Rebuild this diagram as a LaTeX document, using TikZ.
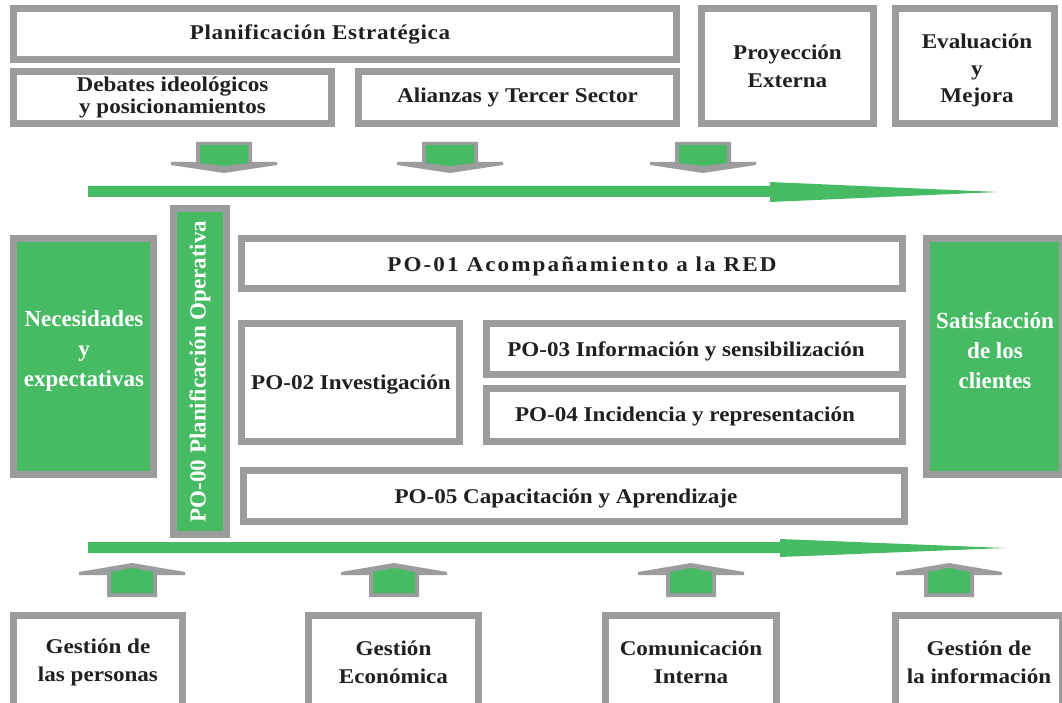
\documentclass[tikz,border=0pt]{standalone}
\usepackage{fontspec}
\setmainfont{Liberation Serif}
\newfontfamily\widefont[FakeStretch=1.1]{Liberation Serif}
\definecolor{bgray}{HTML}{9A9C9E}
\definecolor{pgreen}{HTML}{47BB64}
\definecolor{txt}{HTML}{221F22}
\tikzset{
  box/.style={draw=bgray, line width=7pt, fill=white, align=center, inner sep=0pt, text=txt,
    font=\widefont\bfseries\fontsize{21}{22}\selectfont},
  tallbox/.style={box, font=\widefont\bfseries\fontsize{21}{28}\selectfont},
  lowbox/.style={box, font=\widefont\bfseries\fontsize{21}{28}\selectfont},
  lbl/.style={inner sep=0pt, align=center, text=txt, font=\widefont\bfseries\fontsize{21}{22}\selectfont},
  gbox/.style={box, fill=pgreen, text=white, font=\bfseries\fontsize{23}{30}\selectfont},
  downarr/.pic={
    \fill[bgray] (-28,0) -- (28,0) -- (28,20) -- (53,20) -- (53,23) -- (0,31) -- (-53,23) -- (-53,20) -- (-28,20) -- cycle;
    \fill[pgreen] (-24,3) -- (24,3) -- (24,21) -- (0,24) -- (-24,21) -- cycle;
  },
  uparr/.pic={
    \fill[bgray] (0,0) -- (53,9) -- (53,12) -- (25,12) -- (25,34) -- (-25,34) -- (-25,12) -- (-53,12) -- (-53,9) -- cycle;
    \fill[pgreen] (0,5) -- (21,9) -- (21,30) -- (-21,30) -- (-21,9) -- cycle;
  }
}
\begin{document}
\begin{tikzpicture}[x=1pt,y=-1pt]
\useasboundingbox[fill=white] (0,0) rectangle (1062,703);
% top row
\node[box, minimum width=663, minimum height=51] (ple) at (345,34) {};
\node[lbl, font=\widefont\bfseries\fontsize{21}{22}\selectfont\addfontfeatures{LetterSpace=3}] (plet) at (320,34) {Planificación Estratégica};
\node[box, minimum width=318, minimum height=52] (deb) at (172.5,97.5) {Debates ideológicos\\y posicionamientos};
\node[box, minimum width=318, minimum height=52] (ali) at (517.5,97.5) {Alianzas y Tercer Sector};
\node[tallbox, minimum width=172, minimum height=115] (pro) at (787.5,66) {Proyección\\Externa};
\node[box, minimum width=159, minimum height=115] (eva) at (975,66) {};
\node[lbl, font=\widefont\bfseries\fontsize{21}{27}\selectfont] (evat) at (977,70) {Evaluación\\y\\Mejora};
% down arrows
\coordinate (d1) at (224,142);
\coordinate (d2) at (450,142);
\coordinate (d3) at (703,142);
\pic at (d1) {downarr};
\pic at (d2) {downarr};
\pic at (d3) {downarr};
% green flow bars
\fill[pgreen] (88,186) -- (770,186) -- (770,182) -- (998,192) -- (770,202) -- (770,197) -- (88,197) -- cycle;
\fill[pgreen] (88,542) -- (780,542) -- (780,539) -- (1005,548) -- (780,557) -- (780,553) -- (88,553) -- cycle;
% middle
\node[gbox, minimum width=140, minimum height=236] (nec) at (83.5,356.5) {};
\node[lbl, text=white, font=\bfseries\fontsize{23}{30}\selectfont] (nect) at (84,351) {Necesidades\\y\\expectativas};
\node[gbox, rotate=90, minimum width=326, minimum height=53] (po0) at (200,371.5) {PO-00 Planificación Operativa};
\node[box, minimum width=661, minimum height=50] (po1) at (572,263.5) {};
\node[lbl, font=\widefont\bfseries\fontsize{21}{22}\selectfont\addfontfeatures{LetterSpace=10}] (po1t) at (582,266) {PO-01 Acompañamiento a la RED};
\node[box, minimum width=218, minimum height=118] (po2) at (350.5,382.5) {};
\node[lbl] (po2t) at (351,385) {PO-02 Investigación};
\node[box, minimum width=416, minimum height=51] (po3) at (694.5,349) {};
\node[lbl] (po3t) at (686,351) {PO-03 Información y sensibilización};
\node[box, minimum width=416, minimum height=53] (po4) at (694.5,415) {};
\node[lbl] (po4t) at (685,416) {PO-04 Incidencia y representación};
\node[box, minimum width=661, minimum height=51] (po5) at (574,496) {};
\node[lbl] (po5t) at (566,498) {PO-05 Capacitación y Aprendizaje};
\node[gbox, minimum width=136, minimum height=236] (sat) at (994.5,356.5) {};
\node[lbl, text=white, font=\bfseries\fontsize{23}{30}\selectfont] (satt) at (995,351) {Satisfacción\\de los\\clientes};
% up arrows
\coordinate (u1) at (132,563);
\coordinate (u2) at (394,563);
\coordinate (u3) at (691,563);
\coordinate (u4) at (949,563);
\pic at (u1) {uparr};
\pic at (u2) {uparr};
\pic at (u3) {uparr};
\pic at (u4) {uparr};
% bottom row
\node[lowbox, minimum width=169, minimum height=93] (gp) at (98,662) {Gestión de\\las personas};
\node[lowbox, minimum width=170, minimum height=93] (ge) at (393.5,662) {Gestión\\Económica};
\node[lowbox, minimum width=171, minimum height=93] (ci) at (691,662) {Comunicación\\Interna};
\node[lowbox, minimum width=167, minimum height=93] (gi) at (979,662) {Gestión de\\la información};
\end{tikzpicture}
\end{document}
